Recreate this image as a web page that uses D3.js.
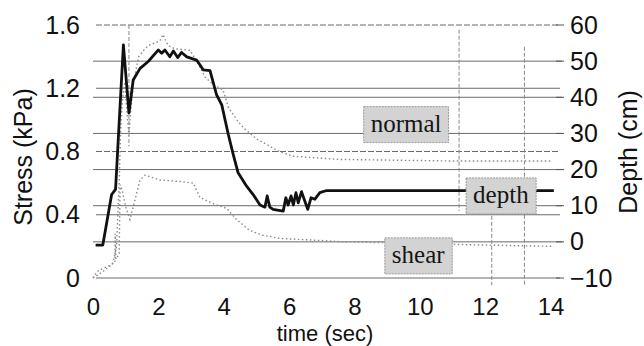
<!DOCTYPE html>
<html><head><meta charset="utf-8">
<script src="https://cdn.jsdelivr.net/npm/d3@7"></script>
<style>html,body{margin:0;padding:0;background:#fff;}</style>
</head><body>
<svg id="chart" width="644" height="346"></svg>
<script>
// time (sec) vs depth (cm) — thick black line, right axis
const depthSeries = [
  [0.08,-0.9],[0.30,-0.9],[0.57,13.1],[0.69,14.5],[0.93,54.5],[1.10,35.6],[1.23,44.8],[1.44,48],
  [1.69,49.9],[2.0,53.1],[2.1,52.2],[2.2,53.1],[2.35,51.2],[2.46,52.8],[2.59,51],[2.71,52.4],
  [2.87,51.2],[3.17,50.3],[3.27,49],[3.37,47.6],[3.58,47.4],[3.78,40.7],[3.94,37.9],[4.14,29.7],
  [4.29,24.2],[4.44,19.1],[4.70,15.4],[4.90,13.1],[5.11,10.2],[5.26,9.6],[5.33,12.7],[5.41,9.6],
  [5.51,9.0],[5.82,8.5],[5.90,12.2],[5.97,10.2],[6.06,12.7],[6.13,10.2],[6.21,13.6],[6.28,10.8],
  [6.38,13.9],[6.48,11.3],[6.57,9.0],[6.67,12.2],[6.79,11.8],[6.94,13.6],[7.15,14.2],[14.1,14.2]
];
// normal stress (kPa) — upper dotted line, left axis
const normalSeries = [
  [0.0,0.0],[0.3,0.04],[0.6,0.09],[0.72,0.2],[0.8,0.6],[0.85,0.95],[0.9,1.12],[0.97,1.24],
  [1.05,1.02],[1.1,0.9],[1.15,1.05],[1.25,1.25],[1.4,1.4],[1.55,1.44],[1.69,1.47],[2.05,1.5],
  [2.14,1.54],[2.3,1.47],[2.5,1.45],[2.97,1.44],[3.2,1.36],[3.43,1.27],[3.7,1.22],[3.98,1.19],
  [4.14,1.08],[4.4,1.0],[4.6,0.95],[5.0,0.88],[5.7,0.80],[6.13,0.77],[7.5,0.75],[11.0,0.74],[14.0,0.74]
];
// shear stress (kPa) — lower dotted line, left axis
const shearSeries = [
  [0.0,0.0],[0.12,0.04],[0.3,0.06],[0.52,0.08],[0.67,0.1],[0.68,0.28],[0.7,0.12],[0.8,0.15],
  [0.83,0.59],[0.9,0.55],[1.0,0.45],[1.13,0.37],[1.28,0.49],[1.44,0.62],[1.59,0.65],[2.05,0.62],
  [2.66,0.61],[3.07,0.60],[3.27,0.51],[3.68,0.47],[4.09,0.44],[4.39,0.37],[4.8,0.30],[5.2,0.27],
  [5.72,0.25],[6.73,0.24],[7.55,0.23],[11.6,0.21],[14.1,0.2]
];
const xTicks = [0,2,4,6,8,10,12,14];
const leftTicks = [0,0.4,0.8,1.2,1.6];
const rightTicks = [-10,0,10,20,30,40,50,60];
// faint vertical scan marks: [time, depth from, depth to]
const verticalMarks = [[1.1,60,26.4],[11.2,58.7,8.5],[12.2,7.2,-12],[13.2,54,-12]];
// text boxes: [label, time, value, axis]
const labels = [["normal",9.58,0.97,"left"],["depth",12.48,12.7,"right"],["shear",9.95,0.14,"left"]];

const svg = d3.select("#chart");
const x = d3.scaleLinear().domain([0,14.35]).range([93,562]);
const yL = d3.scaleLinear().domain([0,1.6]).range([278,25]);
const yR = d3.scaleLinear().domain([-10,60]).range([278,25]);

// gridlines
const grid = svg.append("g").attr("stroke","#6a6a6a").attr("stroke-width",1);
leftTicks.forEach(v=>grid.append("line").attr("x1",x(0)+3).attr("x2",x(14.35)-2)
  .attr("y1",yL(v)).attr("y2",yL(v)).attr("stroke-dasharray", v===1.6||v===0.8 ? "6,2" : null));
rightTicks.forEach(v=>{ if(v===-10||v===60) return;
  grid.append("line").attr("x1",x(0)).attr("x2",x(14.35)).attr("y1",yR(v)).attr("y2",yR(v)); });

// vertical marks
verticalMarks.forEach(([t,a,b])=>svg.append("line").attr("x1",x(t)).attr("x2",x(t))
  .attr("y1",yR(a)).attr("y2",yR(b)).attr("stroke","#888").attr("stroke-width",1)
  .attr("stroke-dasharray","4,2"));

// series
const lineL = d3.line().x(d=>x(d[0])).y(d=>yL(d[1]));
const lineR = d3.line().x(d=>x(d[0])).y(d=>yR(d[1]));
svg.append("path").attr("d",lineL(normalSeries)).attr("fill","none").attr("stroke","#8a8a8a")
  .attr("stroke-width",1.4).attr("stroke-dasharray","1.5,2.5");
svg.append("path").attr("d",lineL(shearSeries)).attr("fill","none").attr("stroke","#8a8a8a")
  .attr("stroke-width",1.4).attr("stroke-dasharray","1.5,2.5");
svg.append("path").attr("d",lineR(depthSeries)).attr("fill","none").attr("stroke","#111")
  .attr("stroke-width",2.8).attr("stroke-linejoin","round");

// axes
const fontSans = "'Liberation Sans', Arial, sans-serif";
const axB = svg.append("g").attr("transform","translate(0,282)")
  .call(d3.axisBottom(x).tickValues(xTicks).tickSize(0).tickPadding(25));
const axL = svg.append("g").attr("transform","translate(84,0)")
  .call(d3.axisLeft(yL).tickValues(leftTicks).tickFormat(d3.format("~g")).tickSize(0).tickPadding(4));
const axR = svg.append("g").attr("transform","translate(562,0)")
  .call(d3.axisRight(yR).tickValues(rightTicks).tickSize(0).tickPadding(8));
[axB,axL,axR].forEach(a=>{ a.select(".domain").remove();
  a.selectAll("text").attr("font-family",fontSans).attr("font-size",25).attr("fill","#111"); });
axB.selectAll("text").attr("font-size",24).attr("dy",null).attr("y",0).attr("dominant-baseline","auto")
  .attr("transform","translate(0,33)");
// right tick marks
svg.append("g").selectAll("line").data(rightTicks).join("line")
  .attr("x1",x(14.35)-6).attr("x2",x(14.35)+2).attr("y1",d=>yR(d)).attr("y2",d=>yR(d))
  .attr("stroke","#555").attr("stroke-width",1);

// axis titles
svg.append("text").attr("x",325).attr("y",341).attr("text-anchor","middle")
  .attr("font-family",fontSans).attr("font-size",22).attr("fill","#111").text("time (sec)");
svg.append("text").attr("transform","translate(32,157) rotate(-90)").attr("text-anchor","middle")
  .attr("font-family",fontSans).attr("font-size",25).attr("fill","#111").text("Stress (kPa)");
svg.append("text").attr("transform","translate(637,152) rotate(-90)").attr("text-anchor","middle")
  .attr("font-family",fontSans).attr("font-size",25).attr("fill","#111").text("Depth (cm)");

// labels with boxes
const fontSerif = "'Liberation Serif', 'Times New Roman', serif";
labels.forEach(([txt,t,v,ax])=>{
  const cx = x(t), cy = ax==="left" ? yL(v) : yR(v);
  const g = svg.append("g");
  const tx = g.append("text").attr("x",cx).attr("y",cy+7).attr("text-anchor","middle")
    .attr("font-family",fontSerif).attr("font-size",25).attr("fill","#151515").text(txt);
  const bb = tx.node().getBBox();
  g.insert("rect","text").attr("x",bb.x-7).attr("y",cy-18).attr("width",bb.width+14).attr("height",36)
    .attr("fill","#d3d3d3").attr("stroke","#999").attr("stroke-dasharray","2,1");
});
</script>
</body></html>
